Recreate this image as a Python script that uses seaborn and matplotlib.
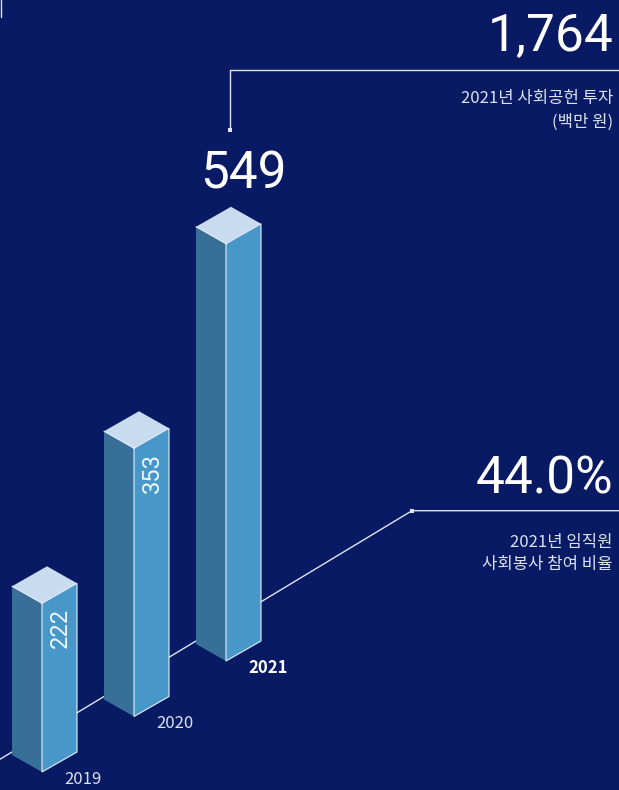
import numpy as np
import matplotlib
matplotlib.use("Agg")
import matplotlib.pyplot as plt
from matplotlib import font_manager
import seaborn as sns

# ---- data -------------------------------------------------------------
years = ["2019", "2020", "2021"]
investment = [222, 353, 549]          # 사회공헌 투자 (백만 원)
total_investment = 1764               # 2021년 사회공헌 투자 합계
participation_rate = 44.0             # 2021년 임직원 사회봉사 참여 비율 (%)
invest_caption = ["2021년 사회공헌 투자", "(백만 원)"]
rate_caption = ["2021년 임직원", "사회봉사 참여 비율"]

# ---- style ------------------------------------------------------------
BG = "#081a63"
SIDE = "#376f99"
FRONT = "#4897c9"
TOP = "#c9dbef"
EDGE = "#e6eef8"
LINE = "#dfe4f0"
SUB = "#dce1ee"

sns.set_theme(style="dark", rc={"axes.facecolor": BG, "figure.facecolor": BG,
                                "savefig.facecolor": BG})
families = {f.name for f in font_manager.fontManager.ttflist}
NUM = "Liberation Sans Narrow" if "Liberation Sans Narrow" in families else "Roboto"
KR = ["Noto Sans CJK KR", "DejaVu Sans"]
plt.rcParams["font.family"] = KR

fig = plt.figure(figsize=(6.19, 7.90), dpi=100)
ax = fig.add_axes([0, 0, 1, 1])
ax.set_xlim(0, 619)
ax.set_ylim(790, 0)
ax.axis("off")

# ---- isometric layout -------------------------------------------------
origin = np.array([12.0, 755.0])      # left-bottom corner of the first prism
step = np.array([92.0, -55.5])        # spacing between prisms along the floor
width_vec = np.array([35.0, -20.0])   # front face, along the floor line
depth_vec = np.array([30.0, 17.0])    # side face, toward the viewer
px_per_unit = 0.76                    # bar height per 백만 원

# floor line running behind the prisms, then out to the right-hand caption
t = (np.array([0.0, 412.0]) - origin[0]) / step[0]
floor = origin[None, :] + t[:, None] * step[None, :] + np.array([0, -3.0])
floor_x = list(floor[:, 0]) + [619]
floor_y = list(floor[:, 1]) + [floor[1, 1]]
sns.lineplot(x=floor_x, y=floor_y, sort=False, estimator=None, color=LINE,
             linewidth=1.0, ax=ax, zorder=1)
sns.scatterplot(x=[floor[1, 0]], y=[floor[1, 1]], marker="s", s=9, color=LINE,
                linewidth=0, ax=ax, zorder=2)

up = np.array([0.0, -1.0])
tops = []
for i, (yr, val) in enumerate(zip(years, investment)):
    L = origin + i * step
    F = L + depth_vec
    R = F + width_vec
    K = L + width_vec
    h = val * px_per_unit * up
    Lt, Ft, Rt, Kt = L + h, F + h, R + h, K + h
    tops.append(Kt)

    side = np.array([L, F, Ft, Lt])
    front = np.array([F, R, Rt, Ft])
    top = np.array([Lt, Ft, Rt, Kt])
    ax.fill(side[:, 0], side[:, 1], color=SIDE, lw=0, zorder=3)
    ax.fill(front[:, 0], front[:, 1], color=FRONT, lw=0, zorder=3)
    ax.fill(top[:, 0], top[:, 1], color=TOP, lw=0, zorder=3)
    # light edges on the front face and top rim
    rim = np.array([Lt, Ft, Rt, R, F, Ft])
    ax.plot(rim[:, 0], rim[:, 1], color=EDGE, lw=0.8, zorder=4,
            solid_joinstyle="miter")

    last = i == len(years) - 1
    ax.text(F[0] + 22, F[1] + 7, yr, ha="left", va="center",
            fontsize=12, color="white" if last else SUB,
            fontweight="bold" if last else "light", zorder=5)
    if not last:
        ax.text(F[0] + width_vec[0] / 2 + 1, Ft[1] + 5, f"{val}",
                rotation=90, ha="center", va="top", fontsize=17,
                family=NUM, fontweight="normal", color="#f2f6fb", zorder=5)
    else:
        ax.text(Kt[0] + 12, Kt[1] - 18, f"{val}", ha="center", va="baseline",
                fontsize=37, family=NUM, color="white", zorder=5)

# leader from the tallest prism up to the yearly total
lead_x = tops[-1][0] - 1
sns.lineplot(x=[lead_x, lead_x, 619], y=[130, 70, 70], sort=False,
             estimator=None, color=LINE, linewidth=1.0, ax=ax, zorder=1)
sns.scatterplot(x=[lead_x], y=[130], marker="s", s=9, color=LINE,
                linewidth=0, ax=ax, zorder=2)

# headline figures
ax.text(613, 50, f"{total_investment:,}", ha="right", va="baseline",
        fontsize=37, family=NUM, color="white")
ax.text(613, 98, invest_caption[0], ha="right", va="center", fontsize=12, color=SUB)
ax.text(613, 122, invest_caption[1], ha="right", va="center", fontsize=12, color=SUB)

ax.text(613, 493, f"{participation_rate:.1f}%", ha="right", va="baseline",
        fontsize=37, family=NUM, color="white")
ax.text(613, 542, rate_caption[0], ha="right", va="center", fontsize=12, color=SUB)
ax.text(613, 565, rate_caption[1], ha="right", va="center", fontsize=12, color=SUB)

# edge of the neighbouring panel
ax.plot([1, 1], [0, 17], color=LINE, lw=1.0)

fig.savefig("out.png", dpi=100, facecolor=BG)
